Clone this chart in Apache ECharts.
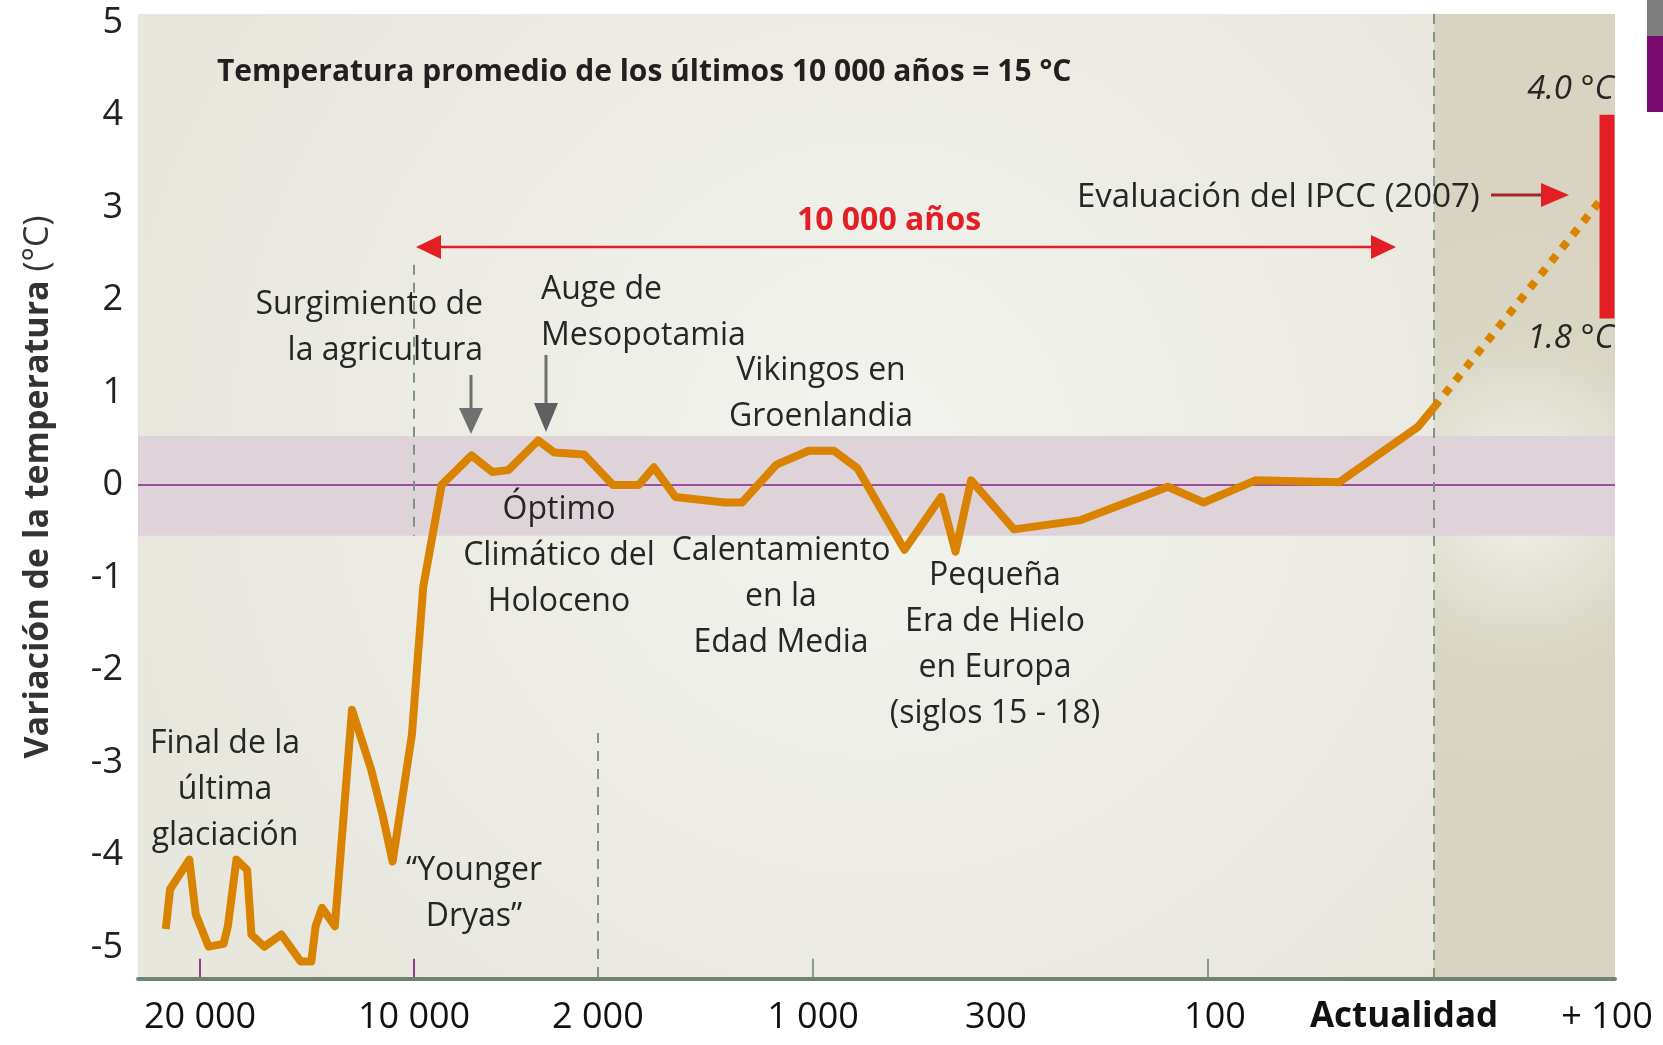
<!DOCTYPE html>
<html>
<head>
<meta charset="utf-8">
<script src="https://cdn.jsdelivr.net/npm/echarts@6/dist/echarts.min.js"></script>
<style>
html, body { margin: 0; padding: 0; background: #fff; }
#chart { width: 1663px; height: 1045px; }
</style>
</head>
<body>
<div id="chart"></div>
<script>
// time axis: labelled years before present, and where each sits along the axis (% of width)
var tickYears  = [20000, 10000, 2000, 1000, 300, 100, 0, -100];
var tickLabels = ['20 000', '10 000', '2 000', '1 000', '300', '100', 'Actualidad', '+ 100'];
var tickPos    = [4.20, 18.69, 31.14, 45.70, 58.09, 72.44, 87.75, 99.46];
var yTicks     = [-5, -4, -3, -2, -1, 0, 1, 2, 3, 4, 5];

// temperature variation (°C) against years before present
var years = [21600, 21400, 20500, 20200, 19600, 18900, 18700, 18300, 17800, 17600, 17000, 16200, 15300, 14800, 14600,
             14300, 13700, 12900, 12000, 11500, 11000, 10100, 9600, 8800, 7500, 6600, 5900, 4600, 3900, 2600,
             1930, 1810, 1740, 1640, 1410, 1330, 1170, 1020, 920, 830, 650, 510, 455, 395,
             283, 220, 151, 138, 104, 79, 42, 7, 0];
var temps = [-4.80, -4.37, -4.05, -4.64, -4.99, -4.96, -4.77, -4.05, -4.16, -4.86, -4.99, -4.86, -5.15, -5.15, -4.77,
             -4.57, -4.77, -2.43, -3.08, -3.54, -4.07, -2.70, -1.10, 0.00, 0.32, 0.14, 0.16, 0.48, 0.35, 0.33,
             0.00, 0.00, 0.19, -0.13, -0.19, -0.19, 0.22, 0.37, 0.37, 0.18, -0.70, -0.13, -0.72, 0.05,
             -0.48, -0.38, -0.08, -0.02, -0.19, 0.05, 0.03, 0.63, 0.84];

// projection to +100 years and IPCC (2007) range
var projYears = [0, -96];
var projTemps = [0.84, 3.07];
var ipccYear = -100;
var ipccRange = [1.8, 4.0];

// band of natural variation around the 10 000 year mean
var bandLow = -0.55, bandHigh = 0.53;
var yMin = -5.34, yMax = 5.09;

function pos(yr) {
    var i = 0;
    while (i < tickYears.length - 2 && yr < tickYears[i + 1]) i++;
    var t = (yr - tickYears[i]) / (tickYears[i + 1] - tickYears[i]);
    return tickPos[i] + t * (tickPos[i + 1] - tickPos[i]);
}

var lineData = [];
for (var i = 0; i < years.length; i++) lineData.push([pos(years[i]), temps[i]]);
var projData = [];
for (var j = 0; j < projYears.length; j++) projData.push([pos(projYears[j]), projTemps[j]]);

var FONT = "'Open Sans', 'DejaVu Sans', sans-serif";
var TXT = '#262626';

var chart = echarts.init(document.getElementById('chart'));

function vline(x, y1, y2, color, dashed) {
    return [{ coord: [x, y1], lineStyle: { color: color, width: 2, type: dashed ? [10, 8] : 'solid' } }, { coord: [x, y2] }];
}

function note(text, x, y, align) {
    return { type: 'text', x: x, y: y, z: 100,
        style: { text: text, fill: TXT, fontFamily: FONT, fontSize: 32, lineHeight: 46, align: align, verticalAlign: 'middle' } };
}

var option = {
    animation: false,
    backgroundColor: '#ffffff',
    grid: {
        left: 138, right: 48, top: 14, bottom: 66,
        outerBoundsMode: 'none',
        show: true, borderWidth: 0,
        backgroundColor: { type: 'radial', x: 0.5, y: 0.45, r: 0.8,
            colorStops: [{ offset: 0, color: '#F2F3EE' }, { offset: 1, color: '#E8E7DE' }] }
    },
    xAxis: {
        type: 'value', min: 0, max: 100, z: 10,
        axisLine: { show: true, onZero: false, lineStyle: { color: '#6E8575', width: 4 } },
        axisTick: { show: false },
        splitLine: { show: false },
        axisLabel: {
            customValues: tickPos,
            margin: 21,
            color: '#111', fontFamily: FONT, fontSize: 36,
            formatter: function (v) {
                var k = 0;
                for (var n = 1; n < tickPos.length; n++) if (Math.abs(tickPos[n] - v) < Math.abs(tickPos[k] - v)) k = n;
                if (tickLabels[k] === 'Actualidad') return '{act|Actualidad}';
                if (tickLabels[k] === '100') return '{r|100}';
                return tickLabels[k];
            },
            rich: {
                act: { fontFamily: FONT, fontSize: 35, fontWeight: 'bold', color: '#111', padding: [0, 60, 0, 0] },
                r: { fontFamily: FONT, fontSize: 36, color: '#111', padding: [0, 0, 0, 14] }
            }
        }
    },
    yAxis: {
        type: 'value', min: yMin, max: yMax,
        axisLine: { show: false }, axisTick: { show: false }, splitLine: { show: false },
        axisLabel: { customValues: yTicks, margin: 15, color: '#222', fontFamily: FONT, fontSize: 36,
            formatter: function (v) { return String(Math.round(v)); } }
    },
    series: [
        {
            name: 'futuro', type: 'line', data: [], z: 1, silent: true,
            markArea: { silent: true, data: [[{
                xAxis: pos(0), yAxis: yMin,
                itemStyle: { color: { type: 'radial', x: 0.48, y: 0.5, r: 1.45,
                    colorStops: [{ offset: 0, color: '#F1F2EC' }, { offset: 0.3, color: '#E6E5DA' },
                                 { offset: 0.6, color: '#D9D6C3' }, { offset: 1, color: '#D8D4C1' }] } }
            }, { xAxis: 100, yAxis: yMax }]] }
        },
        {
            name: 'banda', type: 'line', data: [], z: 2, silent: true,
            markArea: { silent: true, itemStyle: { color: '#DFD3DA' },
                data: [[{ xAxis: 0, yAxis: bandLow }, { xAxis: 100, yAxis: bandHigh }]] },
            markLine: { silent: true, symbol: ['none', 'none'], label: { show: false },
                lineStyle: { color: '#9A4E9C', width: 2, type: 'solid' },
                data: [{ yAxis: 0 }] }
        },
        {
            name: 'guias', type: 'line', data: [], z: 3, silent: true,
            markLine: { silent: true, symbol: ['none', 'none'], label: { show: false },
                data: [
                    vline(pos(10000), 2.38, bandLow, '#7F9488', true),
                    vline(pos(2000), -2.68, yMin, '#7F9488', true),
                    vline(pos(0), yMax, yMin, '#7F9488', true),
                    vline(pos(20000), yMin, yMin + 0.22, '#8E3C8E', false),
                    vline(pos(10000), yMin, yMin + 0.22, '#8E3C8E', false),
                    vline(pos(1000), yMin, yMin + 0.22, '#8A9A8E', false),
                    vline(pos(100), yMin, yMin + 0.22, '#8A9A8E', false)
                ] }
        },
        {
            name: 'Variación de la temperatura', type: 'line', data: lineData, z: 5,
            showSymbol: false, symbol: 'none',
            lineStyle: { color: '#D98300', width: 8, join: 'round' }
        },
        {
            name: 'Proyección', type: 'line', data: projData, z: 5,
            showSymbol: false, symbol: 'none',
            lineStyle: { color: '#D98300', width: 8, type: [8, 9], cap: 'butt' }
        },
        {
            name: 'IPCC', type: 'line', z: 6,
            data: [[pos(ipccYear), ipccRange[0]], [pos(ipccYear), ipccRange[1]]],
            showSymbol: false, symbol: 'none',
            lineStyle: { color: '#E31E25', width: 15, cap: 'butt' }
        }
    ],
    graphic: [
        { type: 'rect', x: 1647, y: 0, shape: { width: 16, height: 36 }, style: { fill: '#7F7F7F' } },
        { type: 'rect', x: 1647, y: 36, shape: { width: 16, height: 76 }, style: { fill: '#790A6E' } },
        { type: 'text', x: 38, y: 487, rotation: Math.PI / 2, z: 100,
          style: { text: '{b|Variación de la temperatura}{r| (°C)}', align: 'center', verticalAlign: 'middle',
                   rich: { b: { fontFamily: FONT, fontSize: 34, fontWeight: 'bold', fill: '#333' },
                           r: { fontFamily: FONT, fontSize: 34, fill: '#333' } } } },
        { type: 'text', x: 217, y: 72, z: 100,
          style: { text: 'Temperatura promedio de los últimos 10 000 años = 15 °C', fill: '#231F20',
                   fontFamily: FONT, fontSize: 30, fontWeight: 'bold', align: 'left', verticalAlign: 'middle' } },
        // 10 000 years arrow
        { type: 'line', z: 100, shape: { x1: 436, y1: 247, x2: 1376, y2: 247 }, style: { stroke: '#E31E25', lineWidth: 2.5 } },
        { type: 'polygon', z: 100, shape: { points: [[416, 247], [441, 235], [441, 259]] }, style: { fill: '#E31E25' } },
        { type: 'polygon', z: 100, shape: { points: [[1396, 247], [1371, 235], [1371, 259]] }, style: { fill: '#E31E25' } },
        { type: 'text', x: 889, y: 221, z: 100,
          style: { text: '10 000 años', fill: '#E31E25', fontFamily: FONT, fontSize: 32, fontWeight: 'bold',
                   align: 'center', verticalAlign: 'middle' } },
        // IPCC
        { type: 'text', x: 1077, y: 198, z: 100,
          style: { text: 'Evaluación del IPCC (2007)', fill: TXT, fontFamily: FONT, fontSize: 33,
                   align: 'left', verticalAlign: 'middle' } },
        { type: 'line', z: 100, shape: { x1: 1491, y1: 195, x2: 1545, y2: 195 }, style: { stroke: '#A3262A', lineWidth: 3 } },
        { type: 'polygon', z: 100, shape: { points: [[1569, 195], [1541, 183], [1541, 207]] }, style: { fill: '#E31E25' } },
        { type: 'text', x: 1614, y: 90, z: 100,
          style: { text: '4.0 °C', fill: TXT, fontFamily: FONT, fontSize: 33, fontStyle: 'italic', align: 'right', verticalAlign: 'middle' } },
        { type: 'text', x: 1614, y: 339, z: 100,
          style: { text: '1.8 °C', fill: TXT, fontFamily: FONT, fontSize: 33, fontStyle: 'italic', align: 'right', verticalAlign: 'middle' } },
        // grey pointer arrows
        { type: 'line', z: 100, shape: { x1: 471, y1: 375, x2: 471, y2: 410 }, style: { stroke: '#6E6E6E', lineWidth: 3 } },
        { type: 'polygon', z: 100, shape: { points: [[459, 408], [483, 408], [471, 434]] }, style: { fill: '#707070' } },
        { type: 'line', z: 100, shape: { x1: 546, y1: 355, x2: 546, y2: 405 }, style: { stroke: '#6E6E6E', lineWidth: 3 } },
        { type: 'polygon', z: 100, shape: { points: [[534, 403], [558, 403], [546, 432]] }, style: { fill: '#606060' } },
        // annotations
        note('Surgimiento de\nla agricultura', 483, 328, 'right'),
        note('Auge de\nMesopotamia', 541, 313, 'left'),
        note('Vikingos en\nGroenlandia', 821, 394, 'center'),
        note('Óptimo\nClimático del\nHoloceno', 559, 556, 'center'),
        note('Calentamiento\nen la\nEdad Media', 781, 597, 'center'),
        note('Pequeña\nEra de Hielo\nen Europa\n(siglos 15 - 18)', 995, 645, 'center'),
        note('Final de la\núltima\nglaciación', 225, 790, 'center'),
        note('\u201CYounger\nDryas\u201D', 474, 894, 'center')
    ]
};

chart.setOption(option);
</script>
</body>
</html>
